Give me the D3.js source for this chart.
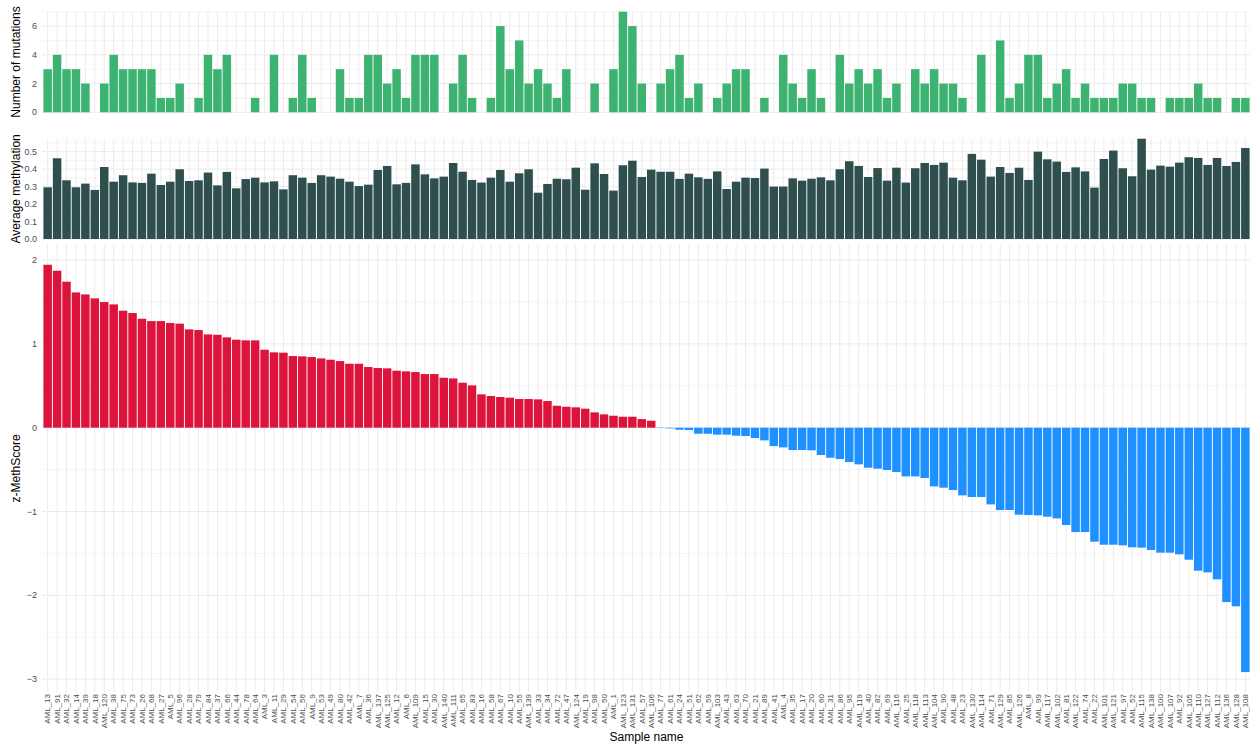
<!DOCTYPE html>
<html>
<head>
<meta charset="utf-8">
<script src="https://cdn.jsdelivr.net/npm/d3@7"></script>
<style>
  body { margin: 0; background: #fff; }
  svg { display: block; }
  text { font-family: Arial, "Liberation Sans", sans-serif; }
</style>
</head>
<body>
<svg id="chart" width="1250" height="746"></svg>
<script>
// Samples ordered by z-MethScore (descending)
const samples = [
  "AML_13","AML_91","AML_32","AML_14","AML_39","AML_18","AML_120","AML_38","AML_75","AML_73",
  "AML_26","AML_68","AML_27","AML_5","AML_96","AML_28","AML_79","AML_84","AML_37","AML_66",
  "AML_44","AML_78","AML_64","AML_3","AML_11","AML_29","AML_54","AML_56","AML_9","AML_53",
  "AML_49","AML_80","AML_42","AML_7","AML_36","AML_137","AML_125","AML_12","AML_6","AML_109",
  "AML_15","AML_30","AML_140","AML_111","AML_65","AML_83","AML_16","AML_58","AML_67","AML_10",
  "AML_55","AML_139","AML_33","AML_34","AML_72","AML_47","AML_124","AML_19","AML_98","AML_50",
  "AML_1","AML_123","AML_131","AML_57","AML_106","AML_77","AML_61","AML_24","AML_51","AML_62",
  "AML_59","AML_103","AML_43","AML_63","AML_70","AML_21","AML_89","AML_41","AML_4","AML_35",
  "AML_17","AML_20","AML_60","AML_31","AML_86","AML_95","AML_119","AML_40","AML_82","AML_69",
  "AML_116","AML_25","AML_118","AML_113","AML_104","AML_90","AML_48","AML_23","AML_130","AML_114",
  "AML_71","AML_129","AML_85","AML_126","AML_8","AML_99","AML_117","AML_102","AML_81","AML_122",
  "AML_74","AML_22","AML_101","AML_121","AML_97","AML_52","AML_115","AML_138","AML_100","AML_107",
  "AML_92","AML_105","AML_110","AML_127","AML_112","AML_136","AML_128","AML_108"
];

// Number of mutations per sample
const mutations = [
  3,4,3,3,2,0,2,4,3,3,3,3,1,1,2,0,1,4,3,4,0,0,1,0,4,0,1,4,1,0,0,3,1,1,4,4,2,3,1,4,4,4,
  0,2,4,1,0,1,6,3,5,2,3,2,1,3,0,0,2,0,3,7,6,2,0,2,3,4,1,2,0,1,2,3,3,0,1,0,4,2,1,3,1,0,4,2,
  3,2,3,1,2,0,3,2,3,2,2,1,0,4,0,5,1,2,4,4,1,2,3,1,2,1,1,1,2,2,1,1,0,1,1,1,2,1,1,0,1,1
];

// Average methylation per sample
const methylation = [
  0.296,0.462,0.336,0.296,0.317,0.281,0.412,0.328,0.365,0.324,0.321,0.374,0.309,0.328,0.399,
  0.332,0.336,0.380,0.307,0.384,0.290,0.343,0.351,0.324,0.330,0.284,0.365,0.351,0.321,0.365,
  0.357,0.345,0.328,0.303,0.311,0.395,0.418,0.313,0.321,0.427,0.370,0.347,
  0.357,0.435,0.385,0.338,0.323,0.351,0.395,0.328,0.376,0.399,0.265,0.315,0.345,0.342,0.408,
  0.282,0.433,0.372,0.277,0.422,0.448,0.355,0.397,0.385,0.385,0.344,0.374,0.353,0.344,0.387,
  0.286,0.328,0.351,0.349,0.403,0.300,0.300,0.347,0.334,0.345,0.353,0.336,0.399,0.445,
  0.418,0.355,0.406,0.334,0.408,0.323,0.405,0.435,0.424,0.437,0.351,0.336,0.487,0.454,0.357,
  0.412,0.378,0.408,0.338,0.500,0.456,0.443,0.384,0.410,0.387,0.294,0.458,0.506,0.405,0.359,
  0.574,0.397,0.420,0.414,0.437,0.468,0.464,0.424,0.464,0.418,0.441,0.521
];

// z-MethScore per sample
const zscore = [
  1.944,1.873,1.742,1.614,1.590,1.543,1.499,1.471,1.396,1.368,1.300,1.272,1.272,1.249,1.241,
  1.173,1.165,1.113,1.109,1.078,1.050,1.042,1.042,0.930,0.899,0.895,0.855,0.851,0.843,0.827,
  0.811,0.795,0.763,0.763,0.724,0.712,0.708,0.680,0.672,0.664,0.640,0.640,0.596,0.588,0.537,
  0.505,0.398,0.378,0.366,0.358,0.342,0.342,0.338,0.318,0.262,0.250,0.243,0.227,0.183,0.159,
  0.143,0.131,0.131,0.103,0.083,
  -0.004,-0.008,-0.024,-0.028,-0.072,-0.072,-0.083,-0.083,-0.095,-0.099,-0.123,-0.151,-0.219,
  -0.235,-0.266,-0.266,-0.270,-0.326,-0.358,-0.374,-0.410,-0.437,-0.477,-0.489,-0.505,-0.529,
  -0.581,-0.581,-0.600,-0.700,-0.716,-0.744,-0.807,-0.827,-0.827,-0.915,-0.982,-0.982,-1.038,
  -1.042,-1.046,-1.062,-1.082,-1.161,-1.245,-1.245,-1.360,-1.396,-1.396,-1.404,-1.427,-1.431,
  -1.459,-1.491,-1.491,-1.511,-1.575,-1.706,-1.726,-1.809,-2.080,-2.131,-2.915
];

const mutTicks = [0, 2, 4, 6];
const methTicks = [0, 0.1, 0.2, 0.3, 0.4, 0.5];
const zTicks = [-3, -2, -1, 0, 1, 2];

const svg = d3.select("#chart");
const plotLeft = 42, plotRight = 1251;

const x = d3.scaleBand()
  .domain(samples)
  .range([plotLeft, plotRight])
  .paddingInner(0.1)
  .paddingOuter(0.15);
const xc = s => x(s) + x.bandwidth() / 2;

function panel({ values, y, ticks, minor, fmt, title, fill }) {
  const g = svg.append("g");
  const [y0, y1] = y.range();
  // vertical grid at each sample
  g.selectAll("line.vg").data(samples).join("line")
    .attr("x1", xc).attr("x2", xc)
    .attr("y1", y1).attr("y2", y0)
    .attr("stroke", "#ebebeb").attr("stroke-width", 1);
  // minor horizontal grid
  g.selectAll("line.mn").data(minor).join("line")
    .attr("x1", plotLeft).attr("x2", plotRight)
    .attr("y1", d => y(d)).attr("y2", d => y(d))
    .attr("stroke", "#ebebeb").attr("stroke-width", 0.5);
  // major horizontal grid
  g.selectAll("line.mj").data(ticks).join("line")
    .attr("x1", plotLeft).attr("x2", plotRight)
    .attr("y1", d => y(d)).attr("y2", d => y(d))
    .attr("stroke", "#ebebeb").attr("stroke-width", 1);
  // bars
  g.selectAll("rect").data(values).join("rect")
    .attr("x", (d, i) => x(samples[i]))
    .attr("width", x.bandwidth())
    .attr("y", d => y(Math.max(0, d)))
    .attr("height", d => Math.abs(y(d) - y(0)))
    .attr("fill", fill);
  // tick labels
  g.selectAll("text.tk").data(ticks).join("text")
    .attr("x", 37).attr("y", d => y(d)).attr("dy", "0.35em")
    .attr("text-anchor", "end")
    .attr("font-size", 9).attr("fill", "#4d4d4d")
    .text(fmt);
  // axis title
  g.append("text")
    .attr("transform", `translate(20,${(y0 + y1) / 2}) rotate(-90)`)
    .attr("text-anchor", "middle")
    .attr("font-size", 12).attr("fill", "#000")
    .text(title);
}

// Number of mutations
panel({
  values: mutations,
  y: d3.scaleLinear().domain([0, d3.max(mutations)]).range([112.3, 11.7]),
  ticks: mutTicks,
  minor: [1, 3, 5, 7],
  fmt: d3.format("d"),
  title: "Number of mutations",
  fill: "#3cb371"
});

// Average methylation
panel({
  values: methylation,
  y: d3.scaleLinear().domain([0, d3.max(methylation)]).range([239, 138.7]),
  ticks: methTicks,
  minor: [0.05, 0.15, 0.25, 0.35, 0.45, 0.55],
  fmt: d3.format(".1f"),
  title: "Average methylation",
  fill: "#2f4f4f"
});

// z-MethScore
const zMin = d3.min(zscore), zMax = d3.max(zscore);
const zPad = (zMax - zMin) * 0.05;
panel({
  values: zscore,
  y: d3.scaleLinear().domain([zMin - zPad, zMax + zPad]).range([692.4, 244.4]),
  ticks: zTicks,
  minor: [-2.5, -1.5, -0.5, 0.5, 1.5],
  fmt: d3.format("d"),
  title: "z-MethScore",
  fill: d => d >= 0 ? "#dc143c" : "#1e90ff"
});

// Sample labels
svg.append("g").selectAll("text").data(samples).join("text")
  .attr("transform", d => `translate(${xc(d)},694) rotate(-90)`)
  .attr("dy", "0.35em")
  .attr("text-anchor", "end")
  .attr("font-size", 8).attr("fill", "#4d4d4d")
  .text(d => d);

svg.append("text")
  .attr("x", (plotLeft + plotRight) / 2).attr("y", 741)
  .attr("text-anchor", "middle")
  .attr("font-size", 12).attr("fill", "#000")
  .text("Sample name");
</script>
</body>
</html>
